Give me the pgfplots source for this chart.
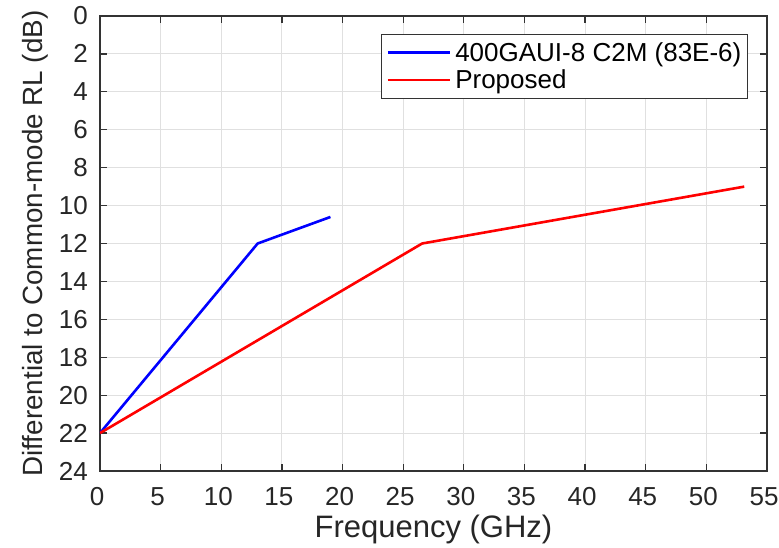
\documentclass[border=0pt]{standalone}
\usepackage{pgfplots}
\pgfplotsset{compat=1.18}
\usepackage{fontspec}
\setmainfont{Liberation Sans}
\begin{document}
\begin{tikzpicture}
\begin{axis}[
  scale only axis, width=667bp, height=455bp,
  xmin=0, xmax=55, ymin=0, ymax=24, y dir=reverse,
  xtick={0,5,...,55}, ytick={0,2,...,24},
  grid=major, grid style={black!12, line width=0.9bp},
  axis line style={black!80, line width=1.3bp},
  tick style={black!80, line width=1.3bp},
  tick align=inside, major tick length=7bp,
  /pgf/number format/assume math mode=true,
  tick label style={font=\fontsize{26bp}{30bp}\selectfont, text=black!85, inner sep=0pt},
  xticklabel style={yshift=-16bp, xshift=-3bp},
  yticklabel style={xshift=-12bp},
  xlabel={Frequency (GHz)},
  ylabel={Differential to Common-mode RL (dB)},
  xlabel style={font=\fontsize{31bp}{35bp}\selectfont, text=black!85, inner sep=0pt,
    at={([yshift=-66bp]axis description cs:0.5,0)}, anchor=base},
  ylabel style={font=\fontsize{27.8bp}{32bp}\selectfont, text=black!85, inner sep=0pt,
    at={([xshift=-57bp]axis description cs:0,0.5)}, anchor=base},
  legend style={at={(0.9715,0.9604)}, anchor=north east,
    font=\fontsize{26bp}{30bp}\selectfont, draw=black!80, line width=1.2bp,
    inner xsep=5bp, inner ysep=7bp, row sep=5bp, nodes={inner sep=1bp},
    /tikz/every odd column/.style={column sep=3bp}},
  legend cell align=left,
  legend image code/.code={\draw[#1, line width=2.6bp] (0bp,0bp) -- (62bp,0bp);},
]
\addplot[blue, line width=2.6bp] coordinates {(0,22) (13,12) (19,10.6)};
\addlegendentry{400GAUI-8 C2M (83E-6)}
\addplot[red, line width=2.6bp] coordinates {(0,22) (26.5625,12) (53.125,9)};
\addlegendentry{Proposed}
\end{axis}
\pgfresetboundingbox
\path[use as bounding box] ([xshift=-100bp,yshift=-77bp]current axis.south west) rectangle ([xshift=12bp,yshift=16bp]current axis.north east);
\end{tikzpicture}
\end{document}
